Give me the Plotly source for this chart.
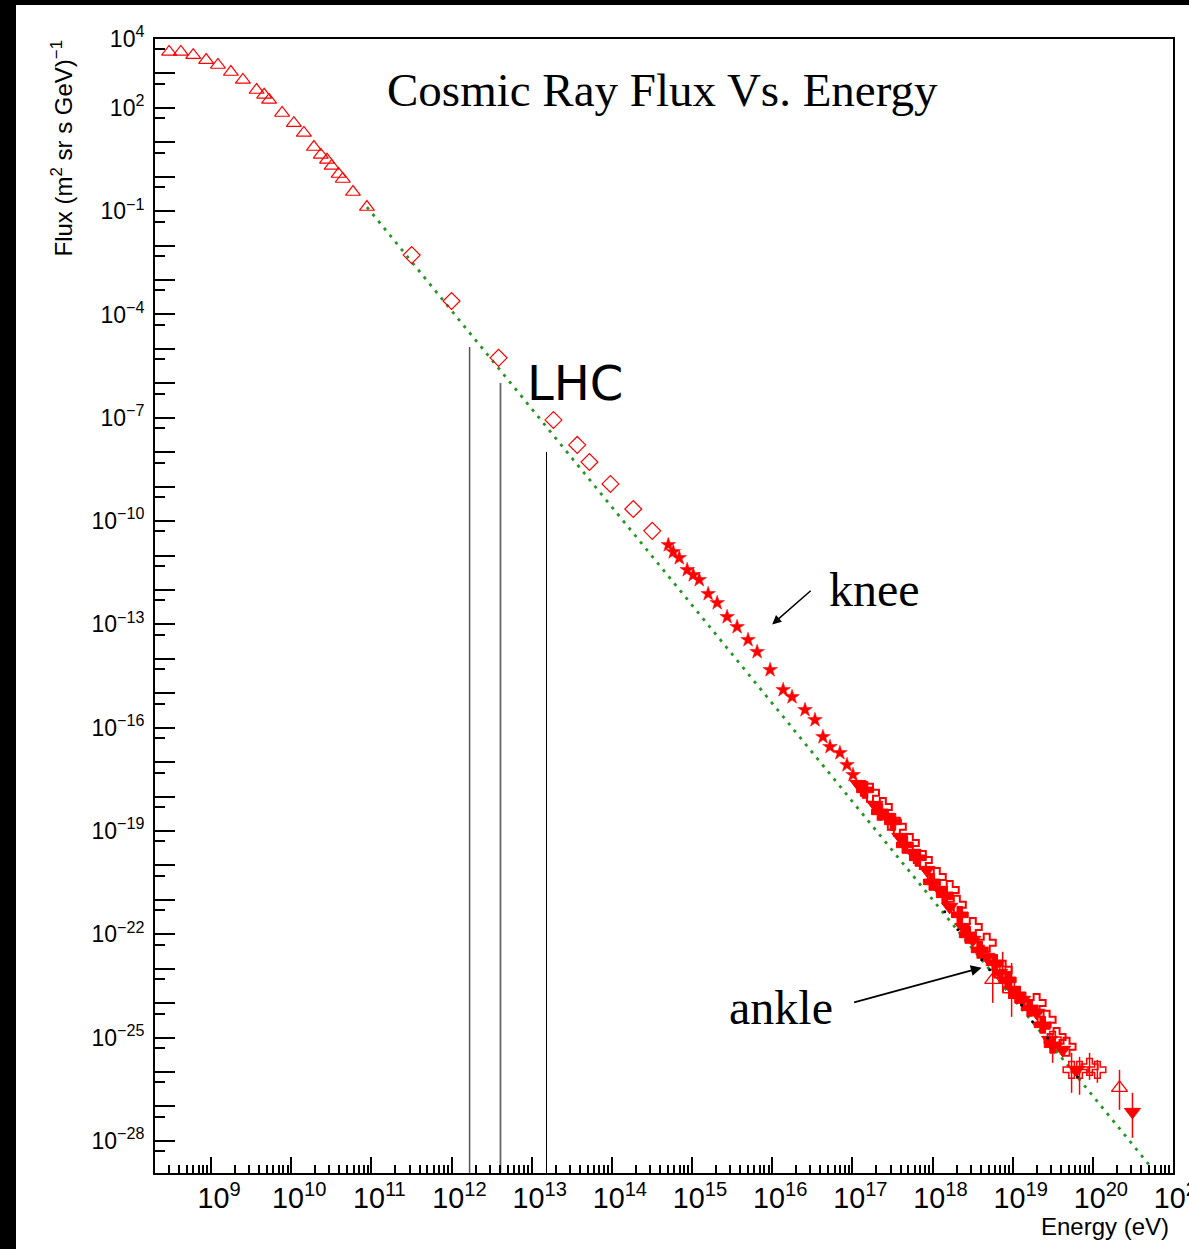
import numpy as np
import plotly.graph_objects as go

# ---------------- data ----------------
# low-energy direct measurements (open triangles)
low_energy = [3.0e8, 4.2e8, 6.0e8, 8.7e8, 1.22e9, 1.77e9, 2.5e9, 3.7e9, 4.6e9, 5.3e9,
              7.7e9, 1.08e10, 1.44e10, 1.92e10, 2.34e10, 2.8e10, 3.2e10, 3.9e10,
              4.4e10, 5.9e10, 8.8e10]
low_flux = [4.2e3, 4.2e3, 3.4e3, 2.45e3, 1.76e3, 1.1e3, 6.5e2, 3.3e2, 2.4e2, 1.7e2,
            71, 36, 18.7, 7.3, 4.3, 3.1, 2.06, 1.2, 0.86, 0.36, 0.132]

# balloon / satellite points (open diamonds)
mid_energy = [3.18e11, 1.0e12, 3.86e12, 1.87e13, 3.7e13, 5.25e13, 9.6e13, 1.85e14, 3.19e14]
mid_flux = [5.3e-3, 2.47e-4, 5.5e-6, 8.65e-8, 1.63e-8, 5.2e-9, 1.2e-9, 2.25e-10, 5.2e-11]

# air-shower points around the knee (stars)
knee_energy = [5.06e14, 5.84e14, 6.93e14, 8.71e14, 1.035e15, 1.23e15, 1.59e15, 2.06e15,
               2.74e15, 3.65e15, 5.0e15, 6.49e15, 9.42e15, 1.37e16, 1.77e16, 2.57e16,
               3.42e16, 4.3e16, 5.26e16, 7.0e16, 8.57e16, 1.02e17]
knee_flux = [2.03e-11, 1.27e-11, 8.5e-12, 3.82e-12, 2.73e-12, 1.96e-12, 7.7e-13, 4.2e-13,
             1.65e-13, 8.45e-14, 3.55e-14, 1.59e-14, 4.77e-15, 1.25e-15, 7.8e-16, 3.29e-16,
             1.68e-16, 5.4e-17, 2.77e-17, 1.85e-17, 8.3e-18, 4.26e-18]

# ultra-high-energy air-shower arrays
uhe_a_energy = [1.175e17, 1.91e17, 2.70e17, 3.92e17, 5.69e17, 8.5e17, 1.23e18, 1.64e18,
                2.39e18, 3.18e18, 4.75e18, 6.89e18, 1.0e19, 1.33e19, 1.99e19, 2.89e19,
                4.2e19, 6.27e19]
uhe_a_flux = [2.33e-18, 5.73e-19, 2.57e-19, 6.75e-20, 2.32e-20, 7.43e-21, 1.95e-21, 6.26e-22,
              1.64e-22, 6.9e-23, 2.21e-23, 7.6e-24, 2.44e-24, 1.25e-24, 5.25e-25, 8.6e-26,
              4.42e-26, 1.16e-26]

uhe_b_energy = [1.66e17, 2.40e17, 3.59e17, 5.21e17, 7.57e17, 1.13e18, 1.64e18, 2.01e18,
                3.18e18, 4.75e18, 7.5e18, 1.99e19, 2.65e19, 3.53e19, 4.7e19]
uhe_b_flux = [1.28e-18, 5.0e-19, 1.32e-19, 4.52e-20, 1.45e-20, 4.65e-21, 1.95e-21, 7.16e-22,
              1.64e-22, 5.64e-23, 9.3e-24, 1.02e-24, 3.28e-25, 1.05e-25, 5.4e-26]

uhe_c_energy = [1.44e17, 2.21e17, 3.21e17, 4.52e17, 6.56e17, 9.8e17, 1.42e18, 2.19e18,
                2.75e18, 3.88e18, 5.97e18, 8.67e18, 1.15e19, 1.63e19, 2.37e19, 3.15e19]
uhe_c_flux = [1.56e-18, 3.59e-19, 1.84e-19, 3.95e-20, 1.66e-20, 3.33e-21, 1.4e-21, 3.67e-22,
              9.6e-23, 3.53e-23, 1.48e-23, 4.75e-24, 1.75e-24, 7.3e-25, 2.35e-25, 6.2e-26]

# highest-energy points with errors (open crosses)
tail_energy = [7.5e18, 9.7e18, 3.15e19, 5.43e19, 6.83e19, 9.1e19, 1.14e20]
tail_flux = [6.65e-24, 2.44e-24, 8.6e-26, 1.16e-26, 1.16e-26, 1.42e-26, 1.16e-26]
tail_hi = [3.1e-23, 1.48e-23, 1.38e-25, 3.61e-26, 2.77e-26, 3.61e-26, 2.26e-26]
tail_lo = [2.0e-24, 4.0e-25, 1.85e-26, 2.49e-27, 2.18e-27, 5.94e-27, 4.86e-27]

# open triangles with errors
tri_energy = [5.64e18, 2.15e20]
tri_flux = [4.75e-24, 3.47e-27]
tri_hi = [1.13e-23, 1.16e-26]
tri_lo = [1.02e-24, 8.0e-28]

# last filled point
last_energy = [3.12e20]
last_flux = [6.98e-28]
last_hi = [2.49e-27]
last_lo = [1.23e-28]

# small dots near the ankle
dot_energy = [1.42e18, 2.07e18, 4.11e18, 5.17e18, 1.29e19, 1.77e19, 2.73e19, 6.44e19]
dot_flux = [4.5e-22, 1.35e-22, 1.81e-23, 9.3e-24, 8.9e-25, 2.87e-25, 9.8e-26, 7.3e-27]

# power-law guide line
guide_energy = [8.8e10, 5.1e20]
guide_flux = [0.132, 1.95e-29]

# collider energy markers
lhc_energy = [1.68e12, 4.08e12, 1.53e13]
lhc_top = [1.14e-5, 1.03e-6, 1.02e-8]

# axis extents
x_min, x_max = 2e8, 1e21
y_min, y_max = 1.17e-29, 1e4
y_label_exponents = [4, 2, -1, -4, -7, -10, -13, -16, -19, -22, -25, -28]

# ---------------- figure ----------------
RED = "#ff0000"
W, H = 1189, 1249
ML, MR, MT, MB = 155, 16, 39, 76
PW, PH = W - ML - MR, H - MT - MB

fig = go.Figure()

fig.add_trace(go.Scatter(x=guide_energy, y=guide_flux, mode="lines",
                         line=dict(color="#239623", width=2.8, dash="3px,6px")))

for e, top, col, wd in zip(lhc_energy, lhc_top, ["#555555", "#666666", "#000000"], [1.5, 1.8, 1.0]):
    fig.add_trace(go.Scatter(x=[e, e], y=[y_min, top], mode="lines",
                             line=dict(color=col, width=wd)))

fig.add_trace(go.Scatter(x=low_energy, y=low_flux, mode="markers",
                         marker=dict(symbol="triangle-up-open", size=13, color=RED,
                                     line=dict(width=1.2, color=RED))))
fig.add_trace(go.Scatter(x=mid_energy, y=mid_flux, mode="markers",
                         marker=dict(symbol="diamond-open", size=13, color=RED,
                                     line=dict(width=1.2, color=RED))))
fig.add_trace(go.Scatter(x=knee_energy, y=knee_flux, mode="markers",
                         marker=dict(symbol="star", size=11, color=RED,
                                     line=dict(width=0.5, color=RED))))

fig.add_trace(go.Scatter(x=uhe_c_energy, y=uhe_c_flux, mode="markers",
                         marker=dict(symbol="cross", size=14, color=RED,
                                     line=dict(width=1, color=RED))))
fig.add_trace(go.Scatter(x=uhe_b_energy, y=uhe_b_flux, mode="markers",
                         marker=dict(symbol="cross-open", size=15, color=RED,
                                     line=dict(width=2, color=RED))))
fig.add_trace(go.Scatter(x=uhe_a_energy, y=uhe_a_flux, mode="markers",
                         marker=dict(symbol="triangle-down", size=14, color=RED,
                                     line=dict(width=1, color=RED))))


def err(vals, hi, lo):
    return dict(type="data", symmetric=False,
                array=[h - v for h, v in zip(hi, vals)],
                arrayminus=[v - l for v, l in zip(vals, lo)],
                color=RED, thickness=1.5, width=0)


fig.add_trace(go.Scatter(x=tail_energy, y=tail_flux, mode="markers",
                         error_y=err(tail_flux, tail_hi, tail_lo),
                         marker=dict(symbol="cross-open", size=14, color=RED,
                                     line=dict(width=1.5, color=RED))))
fig.add_trace(go.Scatter(x=tri_energy, y=tri_flux, mode="markers",
                         error_y=err(tri_flux, tri_hi, tri_lo),
                         marker=dict(symbol="triangle-up-open", size=14, color=RED,
                                     line=dict(width=1.3, color=RED))))
fig.add_trace(go.Scatter(x=last_energy, y=last_flux, mode="markers",
                         error_y=err(last_flux, last_hi, last_lo),
                         marker=dict(symbol="triangle-down", size=14, color=RED,
                                     line=dict(width=1, color=RED))))
fig.add_trace(go.Scatter(x=dot_energy, y=dot_flux, mode="markers",
                         marker=dict(symbol="circle", size=3, color="black")))

tick_font = dict(family="Liberation Sans, Arial, sans-serif", size=23, color="black")

fig.update_xaxes(type="log", range=[np.log10(x_min), np.log10(x_max)], automargin=False,
                 tickmode="linear", tick0=0, dtick=1, exponentformat="power",
                 showexponent="all", ticks="inside", ticklen=16, tickwidth=1.5,
                 tickcolor="black", tickfont=tick_font, ticklabelshift=8,
                 ticklabeloverflow="allow",
                 minor=dict(dtick="D1", ticks="inside", ticklen=8, tickwidth=1.5,
                            tickcolor="black", showgrid=False),
                 showline=True, linecolor="black", linewidth=2, mirror=True,
                 showgrid=False, zeroline=False)

y_major = [10.0 ** k for k in range(-28, 5)]
y_text = [f"10<sup>{str(k).replace('-', '−')}</sup>" if k in y_label_exponents else ""
          for k in range(-28, 5)]
y_minor = [5 * 10.0 ** k for k in range(-29, 4)]

fig.update_yaxes(type="log", range=[np.log10(y_min), np.log10(y_max)], automargin=False,
                 tickmode="array", tickvals=y_major, ticktext=y_text,
                 ticks="inside", ticklen=20, tickwidth=1.5, tickcolor="black",
                 tickfont=tick_font, ticklabelstandoff=4,
                 minor=dict(tickmode="array", tickvals=y_minor, ticks="inside",
                            ticklen=10, tickwidth=1.5, tickcolor="black", showgrid=False),
                 showline=True, linecolor="black", linewidth=2, mirror=True,
                 showgrid=False, zeroline=False)

serif = "Liberation Serif, Times New Roman, serif"
annotations = [
    dict(text="knee", x=np.log10(1.9e17), y=np.log10(1.0e-12), xref="x", yref="y",
         showarrow=False, font=dict(family=serif, size=48, color="black")),
    dict(text="", x=np.log10(1.0e16), y=np.log10(1.0e-13), xref="x", yref="y",
         ax=40, ay=-35, showarrow=True, arrowhead=2, arrowsize=1.2, arrowwidth=1.5,
         arrowcolor="black"),
    dict(text="ankle", x=np.log10(1.3e16), y=np.log10(7.3e-25), xref="x", yref="y",
         showarrow=False, font=dict(family=serif, size=48, color="black")),
    dict(text="", x=np.log10(4.1e18), y=np.log10(1.07e-23), xref="x", yref="y",
         ax=-129, ay=35, showarrow=True, arrowhead=2, arrowsize=1.2, arrowwidth=1.8,
         arrowcolor="black"),
    dict(text="LHC", x=np.log10(3.5e13), y=np.log10(1.03e-6), xref="x", yref="y",
         showarrow=False, font=dict(family="DejaVu Sans, sans-serif", size=48, color="black")),
    dict(text="Cosmic Ray Flux Vs. Energy", x=(662 - ML) / PW, y=1 - (90 - MT) / PH,
         xref="paper", yref="paper", xanchor="center", yanchor="middle", showarrow=False,
         font=dict(family=serif, size=47, color="black")),
    dict(text="Flux (m<sup>2</sup> sr s GeV)<sup>−1</sup>", textangle=-90,
         x=(61 - ML) / PW, y=1 - (38 - MT) / PH, xref="paper", yref="paper",
         xanchor="center", yanchor="top", showarrow=False,
         font=dict(family="Liberation Sans, Arial, sans-serif", size=24, color="black")),
    dict(text="Energy (eV)", x=(1171 - ML) / PW, y=-(1226 - H + MB) / PH,
         xref="paper", yref="paper", xanchor="right", yanchor="middle", showarrow=False,
         font=dict(family="Liberation Sans, Arial, sans-serif", size=24, color="black")),
]

# dark frame bands along the top and left edges of the page
shapes = [
    dict(type="rect", xref="paper", yref="paper", layer="above",
         x0=-ML / PW, x1=(16 - ML) / PW, y0=-MB / PH, y1=(PH + MT) / PH,
         fillcolor="black", line=dict(width=0)),
    dict(type="rect", xref="paper", yref="paper", layer="above",
         x0=-ML / PW, x1=(W - ML) / PW, y0=(PH + MT - 5) / PH, y1=(PH + MT) / PH,
         fillcolor="black", line=dict(width=0)),
]

fig.update_layout(width=W, height=H, margin=dict(l=ML, r=MR, t=MT, b=MB, pad=0),
                  paper_bgcolor="white", plot_bgcolor="white", showlegend=False,
                  annotations=annotations, shapes=shapes)

fig.write_html("out.html")
